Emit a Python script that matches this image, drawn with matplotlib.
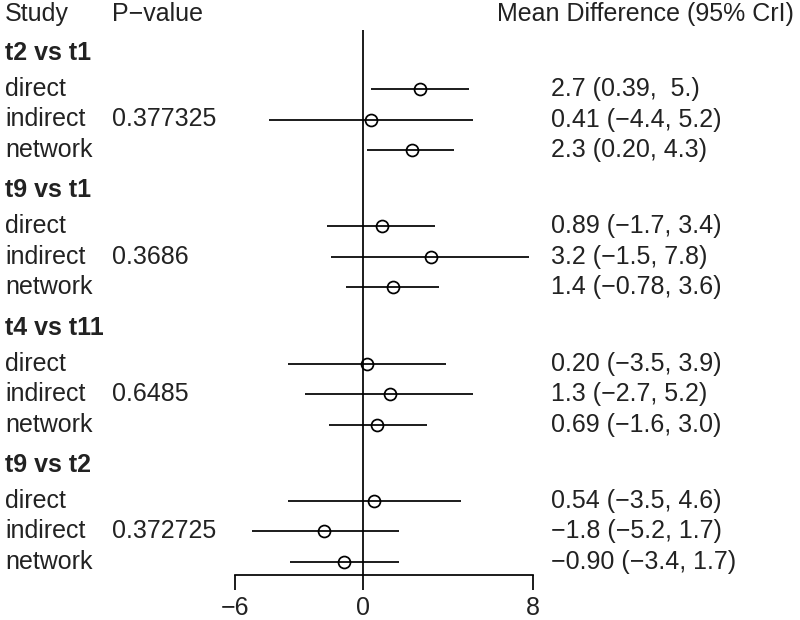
import matplotlib.pyplot as plt
from matplotlib import transforms

plt.rcParams['font.family'] = ['Liberation Sans', 'DejaVu Sans']

# Data
groups = ['t2 vs t1', 't9 vs t1', 't4 vs t11', 't9 vs t2']
kinds = ['direct', 'indirect', 'network']
pvalues = ['0.377325', '0.3686', '0.6485', '0.372725']
est = [[2.7, 0.41, 2.3], [0.89, 3.2, 1.4], [0.20, 1.3, 0.69], [0.54, -1.8, -0.90]]
lower = [[0.39, -4.4, 0.20], [-1.7, -1.5, -0.78], [-3.5, -2.7, -1.6], [-3.5, -5.2, -3.4]]
upper = [[5.0, 5.2, 4.3], [3.4, 7.8, 3.6], [3.9, 5.2, 3.0], [4.6, 1.7, 1.7]]
ci_text = [['2.7 (0.39,  5.)', '0.41 (\u22124.4, 5.2)', '2.3 (0.20, 4.3)'],
           ['0.89 (\u22121.7, 3.4)', '3.2 (\u22121.5, 7.8)', '1.4 (\u22120.78, 3.6)'],
           ['0.20 (\u22123.5, 3.9)', '1.3 (\u22122.7, 5.2)', '0.69 (\u22121.6, 3.0)'],
           ['0.54 (\u22123.5, 4.6)', '\u22121.8 (\u22125.2, 1.7)', '\u22120.90 (\u22123.4, 1.7)']]
xticks = [-6, 0, 8]

W, H = 800, 620
fig = plt.figure(figsize=(W / 100, H / 100), dpi=100)
ax = fig.add_axes([235 / W, 0, (533 - 235) / W, 1])
ax.set_xlim(-6, 8)
ax.set_ylim(H, 0)  # y in pixel-like layout units

fs = 18
tc = '#222222'
lw = 1.25

# layout of rows
group_y = [53 + 137.3 * g for g in range(len(groups))]
row_y = [[gy + 36 + 30.5 * k for k in range(3)] for gy in group_y]
axis_y = 575

tr = transforms.blended_transform_factory(fig.transFigure, ax.transData)

# headers
ax.text(5 / W, 14, 'Study', transform=tr, fontsize=fs, color=tc, va='center', ha='left')
ax.text(112 / W, 14, 'P\u2212value', transform=tr, fontsize=fs, color=tc, va='center', ha='left')
ax.text(497 / W, 14, 'Mean Difference (95% CrI)', transform=tr, fontsize=fs, color=tc,
        va='center', ha='left')

# zero line
ax.vlines(0, 30, axis_y, color='black', lw=lw)

for g, name in enumerate(groups):
    ax.text(5 / W, group_y[g], name, transform=tr, fontsize=fs, color=tc,
            fontweight='bold', va='center', ha='left')
    for k, kind in enumerate(kinds):
        y = row_y[g][k]
        ax.text(5 / W, y, kind, transform=tr, fontsize=fs, color=tc, va='center', ha='left')
        if kind == 'indirect':
            ax.text(112 / W, y, pvalues[g], transform=tr, fontsize=fs, color=tc,
                    va='center', ha='left')
        ax.text(551 / W, y, ci_text[g][k], transform=tr, fontsize=fs, color=tc,
                va='center', ha='left')
        ax.hlines(y, lower[g][k], upper[g][k], color='black', lw=lw, clip_on=False)
        ax.plot(est[g][k], y, 'o', ms=8.6, mfc='none', mec='black', mew=lw, clip_on=False)

# bottom axis
for s in ['top', 'right', 'left']:
    ax.spines[s].set_visible(False)
ax.spines['bottom'].set_position(('data', axis_y))
ax.spines['bottom'].set_bounds(-6, 8)
ax.spines['bottom'].set_linewidth(lw)
ax.set_xticks(xticks)
ax.set_xticklabels(['\u22126', '0', '8'])
ax.tick_params(axis='x', length=10.8, width=lw, pad=4, labelsize=fs, labelcolor=tc)
ax.set_yticks([])
ax.patch.set_visible(False)

fig.savefig('out.png', dpi=100)
